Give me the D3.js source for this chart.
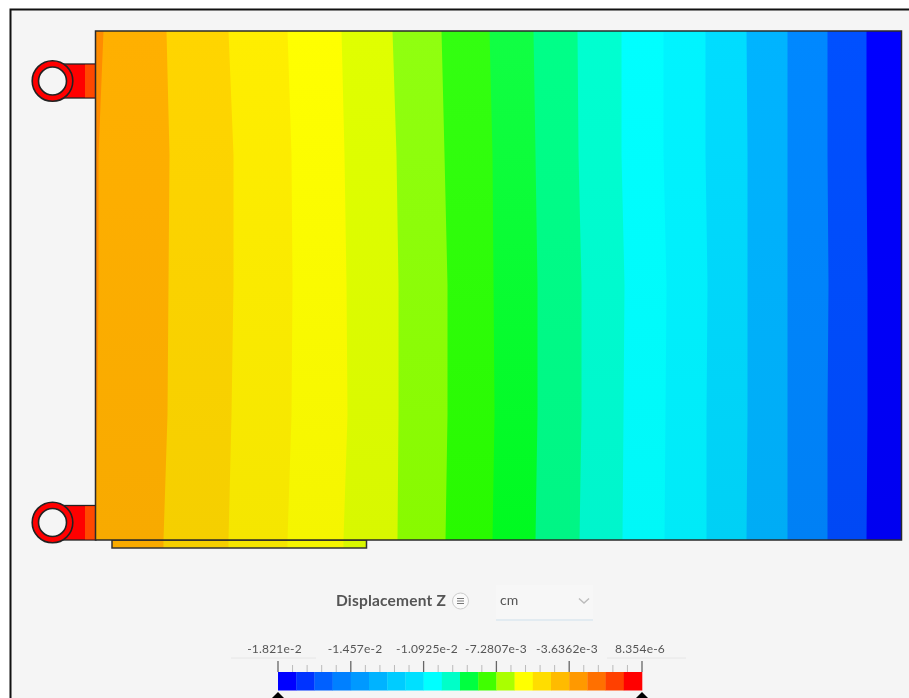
<!DOCTYPE html>
<html><head><meta charset="utf-8">
<script src="https://cdn.jsdelivr.net/npm/d3@7"></script>
<style>
html,body{margin:0;padding:0;background:#fff;overflow:hidden}
svg{display:block;filter:blur(0.4px)}
text{font-family:Lato,"Open Sans",sans-serif}
</style></head><body><svg id="c" width="909" height="698"></svg>
<script>
// Contour edges: position across the plate (0 to 806) at five stations down it (0 to 509)
const stations = [0,124,254,384,509];
const edgesAt0   = [71,133,192,246,297,346,394,438,482,526,568,610,651,692,732,771,806];
const edgesAt124 = [74,138,196,249,301,349,397,440,483,526,568,610,652,692,732,771,806];
const edgesAt254 = [73,138,197,251,303,352,398,442,486,529,571,612,652,692,733,772,806];
const edgesAt384 = [72,136,196,252,303,352,399,442,486,528,570,611,652,692,732,772,806];
const edgesAt509 = [68,133,192,248,302,350,397,440,484,527,569,611,651,692,732,771,806];
const wedgeEdge  = [8,3,3,2,0];
const bandColorsTop = ["#ffb000","#ffd500","#ffee00","#ffff00","#e0ff00","#90ff10","#33ff11","#11ff44","#00ff88","#00ffd0","#00ffff","#00f4ff","#00ddff","#00b4ff","#0088ff","#0050ff","#0000ff"];
const bandColorsBottom = ["#f8aa00","#f5cf00","#f5e600","#f5f500","#d8f800","#88fa00","#28fa00","#00fa20","#00f585","#00f5cc","#00f8f8","#00eaf8","#00d0f5","#00acf5","#0080f5","#0048f5","#0000f0"];
const legendColors = ["#0000ff","#0033ff","#0060ff","#0080ff","#0099ff","#00b3ff","#00ccff","#00e0ff","#00ffff","#00ffc8","#00ff40","#40ff00","#aaff00","#ffff00","#ffdd00","#ffbb00","#ff9900","#ff7000","#ff4000","#ff0000"];
const legendTickValues = [-1.821e-2,-1.457e-2,-1.0925e-2,-7.2807e-3,-3.6362e-3,8.354e-6];
const legendTickLabels = ["-1.821e-2","-1.457e-2","-1.0925e-2","-7.2807e-3","-3.6362e-3","8.354e-6"];
const unitLabel = "cm";
const titleLabel = "Displacement Z";

const edgeRows = [edgesAt0,edgesAt124,edgesAt254,edgesAt384,edgesAt509];
const svg = d3.select("#c");
const defs = svg.append("defs");
svg.append("rect").attr("x",10).attr("y",9).attr("width",899).attr("height",689).attr("fill","#f5f5f5");
svg.append("path").attr("d","M10.5,698V9.5H909").attr("fill","none").attr("stroke","#111").attr("stroke-width",2);

const x = d3.scaleLinear().domain([0,806]).range([95.5,901.5]);
const y = d3.scaleLinear().domain([0,509]).range([31,540]);
const plateTop=y(0), plateBot=y(509);

// lugs
function lug(cy,t,b){
  svg.append("rect").attr("x",60).attr("y",t).attr("width",36).attr("height",b-t).attr("fill","#ff0000").attr("stroke","#222").attr("stroke-width",1.3);
  svg.append("rect").attr("x",85).attr("y",t+.7).attr("width",10).attr("height",b-t-1.4).attr("fill","#ff4800");
  svg.append("circle").attr("cx",52.5).attr("cy",cy).attr("r",20.3).attr("fill","#ff0000").attr("stroke","#222").attr("stroke-width",1.6);
  svg.append("circle").attr("cx",52.5).attr("cy",cy).attr("r",14).attr("fill","#f5f5f5").attr("stroke","#222").attr("stroke-width",1.6);
}
lug(81,64,98);
lug(522.5,505.5,540);

// bottom strip
const strip = defs.append("clipPath").attr("id","strip");
strip.append("rect").attr("x",112).attr("y",540).attr("width",254.5).attr("height",8);
const stripG = svg.append("g").attr("clip-path","url(#strip)");
bandColorsBottom.forEach((c,i)=>{
  stripG.append("rect").attr("x",i==0?x(0):x(edgesAt509[i-1])).attr("y",538).attr("width",806).attr("height",12).attr("fill",c);
});
svg.append("rect").attr("x",112).attr("y",540).attr("width",254.5).attr("height",8).attr("fill","none").attr("stroke","#333").attr("stroke-width",1.5);

// plate bands: each is painted from its left contour to the plate's right edge
svg.append("rect").attr("x",x(0)).attr("y",plateTop).attr("width",806).attr("height",plateBot-plateTop).attr("fill","#ff8c00");
bandColorsTop.forEach((c,i)=>{
  const g = defs.append("linearGradient").attr("id","b"+i).attr("x1",0).attr("x2",0).attr("y1",0).attr("y2",1);
  g.append("stop").attr("offset",0).attr("stop-color",c);
  g.append("stop").attr("offset",1).attr("stop-color",bandColorsBottom[i]);
  const left = stations.map((s,k)=>[x(i==0?wedgeEdge[k]:edgeRows[k][i-1]),y(s)]);
  const pts = left.concat([[x(806),y(509)],[x(806),y(0)]]);
  svg.append("path").attr("d",d3.line()(pts)+"Z").attr("fill",`url(#b${i})`);
});
svg.append("rect").attr("x",x(0)).attr("y",plateTop).attr("width",806).attr("height",plateBot-plateTop).attr("fill","none").attr("stroke","#2a2a2a").attr("stroke-width",1.5);

// header
svg.append("text").attr("x",391).attr("y",606).attr("text-anchor","middle").attr("font-size",15.5).attr("letter-spacing",0.2).attr("font-weight",700).attr("fill","#555").text(titleLabel);
svg.append("circle").attr("cx",460.5).attr("cy",601).attr("r",8).attr("fill","#fafafa").attr("stroke","#ccc");
svg.selectAll(".m").data([-2.5,0,2.5]).join("line").attr("x1",457).attr("x2",464).attr("y1",d=>601+d).attr("y2",d=>601+d).attr("stroke","#777");
svg.append("rect").attr("x",496).attr("y",585).attr("width",97).attr("height",34).attr("fill","#f7f7f7");
svg.append("line").attr("x1",496).attr("x2",593).attr("y1",620).attr("y2",620).attr("stroke","#cfe2ee").attr("stroke-width",1.2);
svg.append("text").attr("x",500).attr("y",605).attr("font-size",14).attr("fill","#555").text(unitLabel);
svg.append("path").attr("d","M579,598.5l5,4.5l5,-4.5").attr("fill","none").attr("stroke","#bbb").attr("stroke-width",1.4);

// legend
const lx = d3.scaleLinear().domain([legendTickValues[0],legendTickValues[5]]).range([278,642]);
const cell = d3.scaleBand().domain(d3.range(legendColors.length)).range([278,642]);
svg.selectAll(".cell").data(legendColors).join("rect").attr("x",(d,i)=>cell(i)).attr("y",672).attr("width",cell.bandwidth()+.3).attr("height",18.5).attr("fill",d=>d);
const labelPos = [274.5,355,427,496,567,640];
const minor = lx.copy().domain([0,25]);
svg.selectAll(".t").data(d3.range(26)).join("line")
  .attr("x1",d=>minor(d)).attr("x2",d=>minor(d)).attr("y1",d=>d%5==0?661:665).attr("y2",672)
  .attr("stroke",d=>d%5==0?"#666":"#bbb").attr("stroke-width",d=>d%5==0?1.3:1);
svg.selectAll(".lb").data(legendTickLabels).join("text")
  .attr("x",(d,i)=>labelPos[i]).attr("y",653).attr("text-anchor","middle").attr("font-size",12).attr("letter-spacing",0.2).attr("fill","#555").text(d=>d);
[[231,316],[607,686]].forEach(r=>svg.append("line").attr("x1",r[0]).attr("x2",r[1]).attr("y1",658).attr("y2",658).attr("stroke","#e6e6e6"));
[278,642].forEach(px=>svg.append("path").attr("d",`M${px-6},698L${px},692L${px+6},698Z`).attr("fill","#000"));
</script></body></html>
